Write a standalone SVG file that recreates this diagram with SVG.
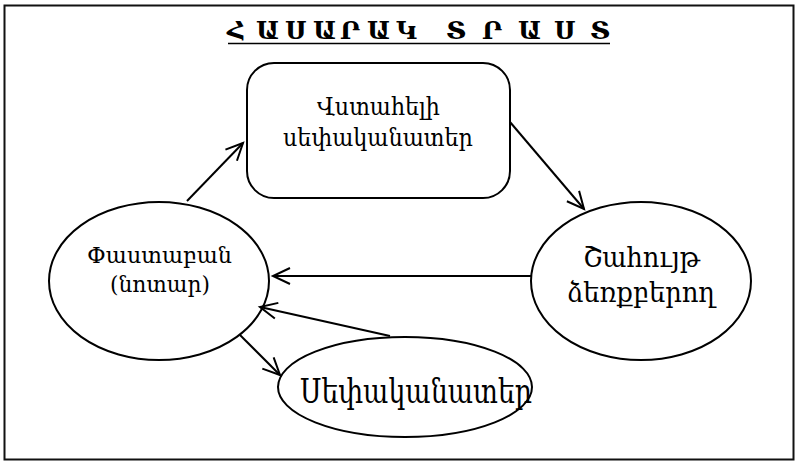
<svg xmlns="http://www.w3.org/2000/svg" width="797" height="461" viewBox="0 0 797 461">
  <defs>
    <style>
      .shape { fill: #fff; stroke: #000; stroke-width: 2; }
      .edge { fill: none; stroke: #000; stroke-width: 2; marker-end: url(#head); }
      .lbl { font-family: "DejaVu Serif", "Noto Serif", serif; fill: #000; }
    </style>
    <marker id="head" viewBox="-20 -10 22 20" refX="0" refY="0" markerWidth="22" markerHeight="20" markerUnits="userSpaceOnUse" orient="auto" overflow="visible">
      <path d="M-17,-8 L0,0 L-17,8" fill="none" stroke="#000" stroke-width="2" stroke-linejoin="miter"/>
    </marker>
  </defs>

  <rect width="797" height="461" fill="#fff"/>
  <!-- outer frame -->
  <rect x="4.5" y="5.5" width="789" height="454" fill="none" stroke="#111" stroke-width="2"/>

  <!-- title, one letter per slot -->
  <g id="title">
    <text class="lbl" y="39" font-size="25" font-weight="bold" x="227 256 285 313 340 367 396 446 482 518 554 590">ՀԱՍԱՐԱԿՏՐԱՍՏ</text>
    <line x1="228" y1="43.5" x2="610" y2="43.5" stroke="#000" stroke-width="1.6"/>
  </g>

  <!-- nodes -->
  <g id="trustee">
    <rect class="shape" x="247" y="63" width="263" height="135" rx="27" ry="27"/>
    <text class="lbl" x="317" y="115" font-size="24" textLength="123" lengthAdjust="spacingAndGlyphs">Վստահելի</text>
    <text class="lbl" x="283" y="146" font-size="24" textLength="190" lengthAdjust="spacingAndGlyphs">սեփականատեր</text>
  </g>

  <g id="settlor">
    <ellipse class="shape" cx="159" cy="281" rx="110" ry="79"/>
    <text class="lbl" x="87" y="263" font-size="23" textLength="145" lengthAdjust="spacingAndGlyphs">Փաստաբան</text>
    <text class="lbl" x="110" y="292" font-size="23" textLength="100" lengthAdjust="spacingAndGlyphs">(նոտար)</text>
  </g>

  <g id="beneficiary">
    <ellipse class="shape" cx="641" cy="281" rx="110" ry="79"/>
    <text class="lbl" x="583" y="267" font-size="27" textLength="117" lengthAdjust="spacingAndGlyphs">Շահույթ</text>
    <text class="lbl" x="567" y="302" font-size="27" textLength="148" lengthAdjust="spacingAndGlyphs">ձեռքբերող</text>
  </g>

  <g id="owner">
    <ellipse class="shape" cx="405" cy="387" rx="127" ry="50"/>
    <text class="lbl" x="300" y="403" font-size="33" textLength="232" lengthAdjust="spacingAndGlyphs">Սեփականատեր</text>
  </g>

  <!-- connectors -->
  <g id="connectors">
    <line class="edge" x1="187" y1="201" x2="243" y2="143"/>
    <line class="edge" x1="510" y1="122" x2="584" y2="209"/>
    <line class="edge" x1="532" y1="276" x2="273" y2="276"/>
    <line class="edge" x1="390" y1="336" x2="260" y2="307"/>
    <line class="edge" x1="240" y1="335" x2="280" y2="375"/>
  </g>
</svg>
